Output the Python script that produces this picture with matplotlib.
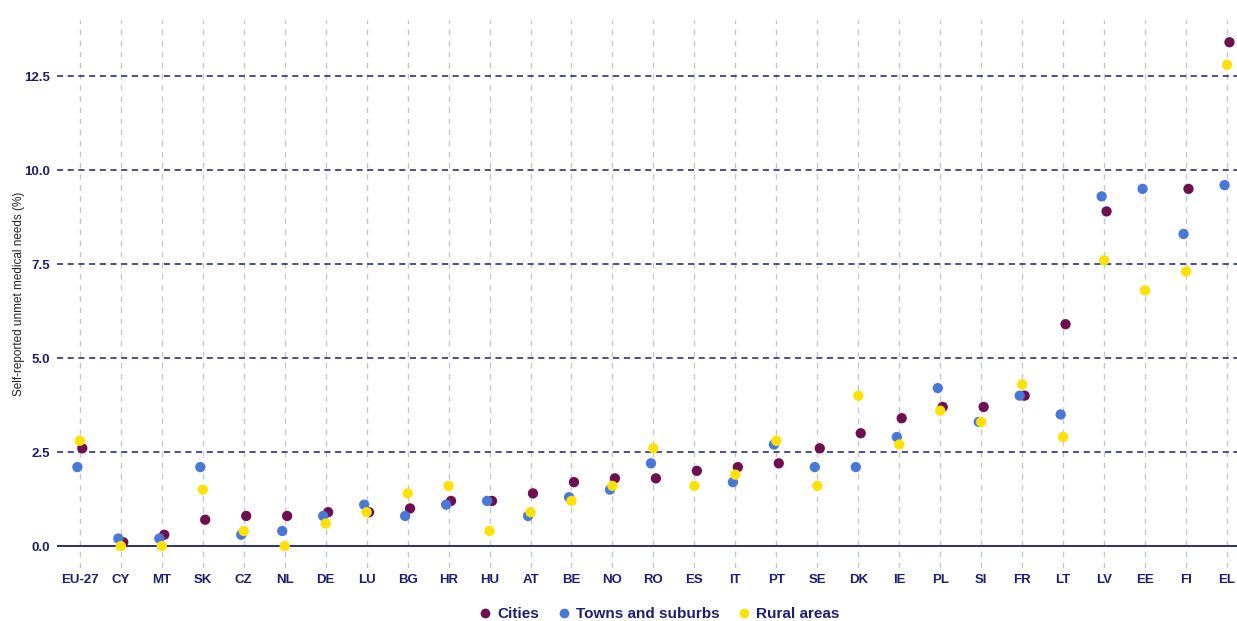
import numpy as np
import matplotlib
matplotlib.use("Agg")
import matplotlib.pyplot as plt
from matplotlib.lines import Line2D

plt.rcParams["font.family"] = ["Liberation Sans", "DejaVu Sans"]

countries = ["EU-27", "CY", "MT", "SK", "CZ", "NL", "DE", "LU", "BG", "HR",
             "HU", "AT", "BE", "NO", "RO", "ES", "IT", "PT", "SE", "DK",
             "IE", "PL", "SI", "FR", "LT", "LV", "EE", "FI", "EL"]

cities = [2.6, 0.1, 0.3, 0.7, 0.8, 0.8, 0.9, 0.9, 1.0, 1.2,
          1.2, 1.4, 1.7, 1.8, 1.8, 2.0, 2.1, 2.2, 2.6, 3.0,
          3.4, 3.7, 3.7, 4.0, 5.9, 8.9, np.nan, 9.5, 13.4]
towns = [2.1, 0.2, 0.2, 2.1, 0.3, 0.4, 0.8, 1.1, 0.8, 1.1,
         1.2, 0.8, 1.3, 1.5, 2.2, np.nan, 1.7, 2.7, 2.1, 2.1,
         2.9, 4.2, 3.3, 4.0, 3.5, 9.3, 9.5, 8.3, 9.6]
rural = [2.8, 0.0, 0.0, 1.5, 0.4, 0.0, 0.6, 0.9, 1.4, 1.6,
         0.4, 0.9, 1.2, 1.6, 2.6, 1.6, 1.9, 2.8, 1.6, 4.0,
         2.7, 3.6, 3.3, 4.3, 2.9, 7.6, 6.8, 7.3, 12.8]

y_ticks = [0.0, 2.5, 5.0, 7.5, 10.0, 12.5]

NAVY = "#1e1e6e"
C_CITY = "#6e0f50"
C_TOWN = "#4a78d8"
C_RURAL = "#ffe100"

fig = plt.figure(figsize=(12.37, 6.21), dpi=100)
ax = fig.add_axes([0.046, 0.0853, 0.954, 0.8824])

x = np.arange(1, len(countries) + 1)

# vertical category guides
for xi in x:
    ax.axvline(xi, color="#c4c8cc", lw=1.0, ls=(0, (4, 4)), zorder=0)
# horizontal reference lines
for yt in y_ticks[1:]:
    ax.axhline(yt, color=NAVY, lw=1.1, ls=(0, (4, 3)), zorder=1)
ax.axhline(0, color=NAVY, lw=1.3, zorder=1)

series = [("Cities", cities, C_CITY, 0.06),
          ("Towns and suburbs", towns, C_TOWN, -0.06),
          ("Rural areas", rural, C_RURAL, 0.0)]
for name, vals, col, dx in series:
    ax.scatter(x + dx, vals, s=55, color=col, edgecolors="none", zorder=3)

ax.set_xlim(0.44, len(countries) + 0.244)
ax.set_ylim(-0.585, 13.99)
ax.set_xticks(x)
ax.set_xticklabels(countries, fontsize=9.5, fontweight="bold", color=NAVY)
ax.set_yticks(y_ticks)
ax.set_yticklabels([f"{v:.1f}" for v in y_ticks], fontsize=9.5,
                   fontweight="bold", color=NAVY)
ax.tick_params(axis="both", length=0)
ax.tick_params(axis="y", pad=5)
ax.tick_params(axis="x", pad=4)
for sp in ax.spines.values():
    sp.set_visible(False)
ax.set_ylabel("Self-reported unmet medical needs (%)", fontsize=8.5,
              color="#222222")
ax.yaxis.set_label_coords(-0.027, 0.5)

handles = [Line2D([], [], marker="o", ls="", color=c, markersize=7,
                  markeredgewidth=0) for _, _, c, _ in series]
leg = fig.legend(handles, [s[0] for s in series], loc="center",
                 bbox_to_anchor=(657 / 1237, 1 - 614 / 621), ncol=3,
                 frameon=False, handletextpad=0.1, columnspacing=0.9,
                 handlelength=1.4, prop={"size": 11, "weight": "bold"})
for t in leg.get_texts():
    t.set_color(NAVY)

fig.savefig("out.png", dpi=100)
